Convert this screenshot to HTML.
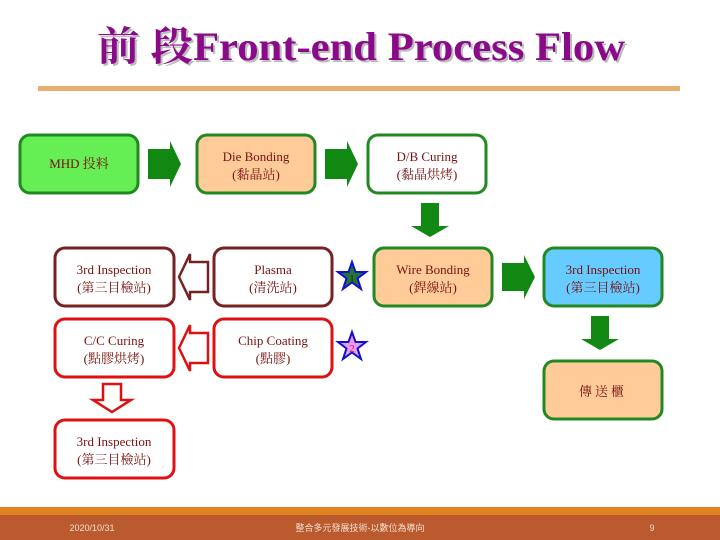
<!DOCTYPE html>
<html><head><meta charset="utf-8"><style>
html,body{margin:0;padding:0;background:#fff;}
svg{display:block;}
.t{font-family:"Liberation Serif","Noto Serif CJK SC",serif;font-size:13px;fill:#7a1010;text-anchor:middle;}
</style></head><body>
<svg width="720" height="540" viewBox="0 0 720 540" xmlns="http://www.w3.org/2000/svg">
<text x="97" y="60" textLength="528" lengthAdjust="spacingAndGlyphs" font-family="Liberation Serif,'Noto Serif CJK SC',serif" font-weight="bold" font-size="40" fill="#bbbbbb" transform="translate(2,2)">前 段Front-end Process Flow</text>
<text x="97" y="60" textLength="528" lengthAdjust="spacingAndGlyphs" font-family="Liberation Serif,'Noto Serif CJK SC',serif" font-weight="bold" font-size="40" fill="#8a0a8a">前 段Front-end Process Flow</text>
<rect x="38" y="86" width="642" height="5" fill="#e8b070"/>

<g stroke-width="3">
<rect x="20" y="135" width="118" height="58" rx="10" fill="#66ee55" stroke="#228822"/>
<rect x="197" y="135" width="118" height="58" rx="10" fill="#ffcc99" stroke="#228822"/>
<rect x="368" y="135" width="118" height="58" rx="10" fill="#fff" stroke="#228822"/>
<rect x="55" y="248" width="119" height="58" rx="10" fill="#fff" stroke="#772222"/>
<rect x="214" y="248" width="118" height="58" rx="10" fill="#fff" stroke="#772222"/>
<rect x="374" y="248" width="118" height="58" rx="10" fill="#ffcc99" stroke="#228822"/>
<rect x="544" y="248" width="118" height="58" rx="10" fill="#66ccff" stroke="#228822"/>
<rect x="55" y="319" width="119" height="58" rx="10" fill="#fff" stroke="#dd1111"/>
<rect x="214" y="319" width="118" height="58" rx="10" fill="#fff" stroke="#dd1111"/>
<rect x="544" y="361" width="118" height="58" rx="10" fill="#ffcc99" stroke="#228822"/>
<rect x="55" y="420" width="119" height="58" rx="10" fill="#fff" stroke="#dd1111"/>
</g>

<g fill="#118811">
<polygon points="148,149 170,149 170,141 181,164 170,187 170,179 148,179"/>
<polygon points="325,149 347,149 347,141 358,164 347,187 347,179 325,179"/>
<polygon points="502,263 524,263 524,255 535,277 524,299 524,291 502,291"/>
<polygon points="421,203 439,203 439,226 449,226 430,237 411,226 421,226"/>
<polygon points="591,316 609,316 609,339 619,339 600,350 581,339 591,339"/>
</g>
<g fill="#fff" stroke-width="2.5">
<polygon points="208,262 190,262 190,254 179,277 190,300 190,292 208,292" stroke="#772222"/>
<polygon points="208,333 190,333 190,325 179,348 190,371 190,363 208,363" stroke="#dd1111"/>
<polygon points="103,384 121,384 121,400 131,400 112,412 93,400 103,400" stroke="#dd1111"/>
</g>

<polygon points="352,262 355.5,272 366,272 357.5,278.5 361,289 352,282.5 343,289 346.5,278.5 338,272 348.5,272" fill="#227733" stroke="#1111cc" stroke-width="2"/>
<text x="352" y="282" font-family="Liberation Serif,serif" font-size="11" fill="#442200" text-anchor="middle">1</text>
<polygon points="352,332 355.5,342 366,342 357.5,348.5 361,359 352,352.5 343,359 346.5,348.5 338,342 348.5,342" fill="#ee99ee" stroke="#1111cc" stroke-width="2"/>
<text x="352" y="352" font-family="Liberation Serif,serif" font-size="11" fill="#aa2266" text-anchor="middle">2</text>

<text class="t" x="79" y="168">MHD 投料</text>
<text class="t" x="256" y="161">Die Bonding</text><text class="t" x="256" y="179">(黏晶站)</text>
<text class="t" x="427" y="161">D/B Curing</text><text class="t" x="427" y="179">(黏晶烘烤)</text>
<text class="t" x="114" y="274">3rd Inspection</text><text class="t" x="114" y="292">(第三目檢站)</text>
<text class="t" x="273" y="274">Plasma</text><text class="t" x="273" y="292">(清洗站)</text>
<text class="t" x="433" y="274">Wire Bonding</text><text class="t" x="433" y="292">(銲線站)</text>
<text class="t" x="603" y="274">3rd Inspection</text><text class="t" x="603" y="292">(第三目檢站)</text>
<text class="t" x="114" y="345">C/C Curing</text><text class="t" x="114" y="363">(點膠烘烤)</text>
<text class="t" x="273" y="345">Chip Coating</text><text class="t" x="273" y="363">(點膠)</text>
<text class="t" x="603" y="396" style="letter-spacing:3px">傳送櫃</text>
<text class="t" x="114" y="446">3rd Inspection</text><text class="t" x="114" y="464">(第三目檢站)</text>

<rect x="0" y="507" width="720" height="9" fill="#e0821e"/>
<rect x="0" y="515" width="720" height="25" fill="#bb5a2e"/>
<text x="92" y="531" font-family="Liberation Sans,sans-serif" font-size="9" fill="#f4e0d0" text-anchor="middle">2020/10/31</text>
<text x="360" y="531" font-family="Liberation Sans,'Noto Sans CJK TC',sans-serif" font-size="9" fill="#f4e0d0" text-anchor="middle">整合多元發展技術-以數位為導向</text>
<text x="652" y="531" font-family="Liberation Sans,sans-serif" font-size="9" fill="#f4e0d0" text-anchor="middle">9</text>
</svg>
</body></html>
